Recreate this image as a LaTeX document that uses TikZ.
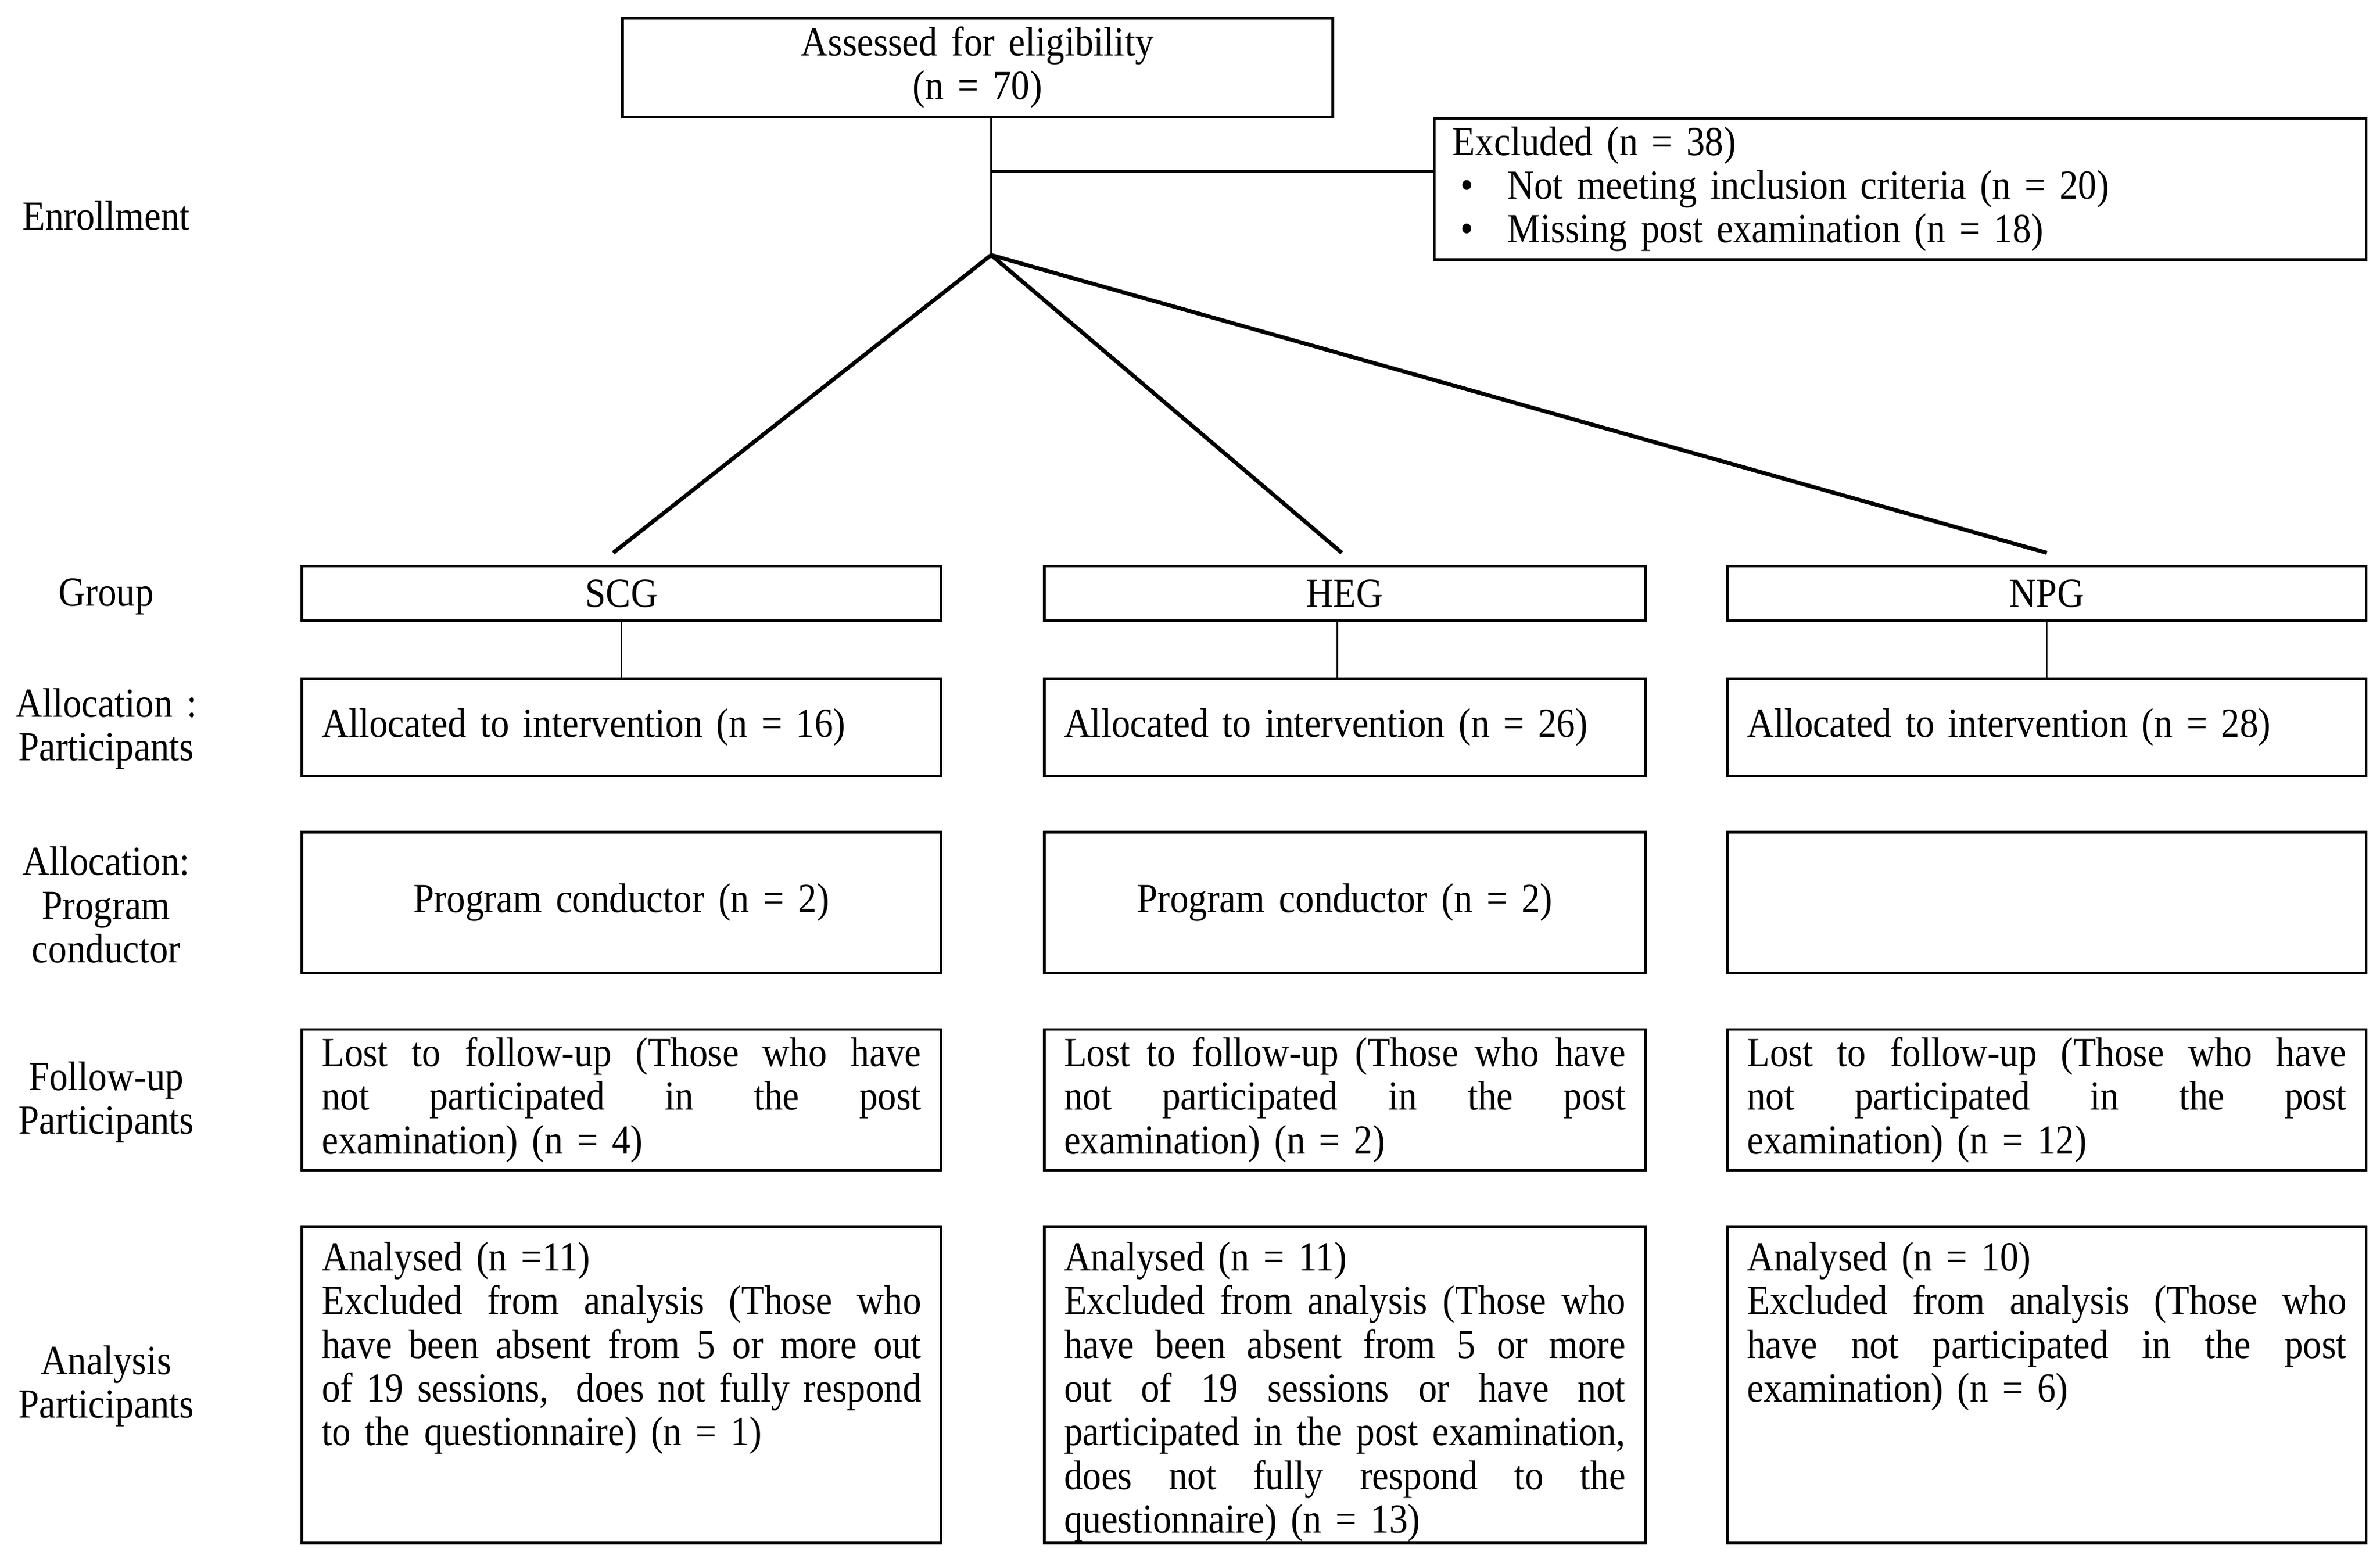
\documentclass[tikz,border=0pt]{standalone}
\usepackage{fontspec}
\setmainfont{Liberation Serif}[FakeStretch=0.9,WordSpace=1.5]
\usepackage{tikz}
\tikzset{
  box/.style={draw,line width=1pt,rectangle,inner xsep=0.26cm,inner ysep=0pt},
  sidelabel/.style={align=center},
  link/.style={line width=0.6pt},
  branch/.style={line width=1.5pt}
}

\begin{document}
\begin{tikzpicture}[x=0.02cm,y=-0.02cm,every node/.style={font=\fontsize{15.5}{16.4}\selectfont}]
\useasboundingbox (0,0) rectangle (1568,1024);

%left labels
\node[sidelabel] (lenrol) at (70,142) {Enrollment};
\node[sidelabel] (lgroup) at (70,393) {Group};
\node[sidelabel] (lalloc) at (70,480) {Allocation :\\Participants};
\node[sidelabel] (lprog) at (70,596) {Allocation:\\Program\\conductor};
\node[sidelabel] (lfollow) at (70,726) {Follow-up\\Participants};
\node[sidelabel] (lanal) at (70,913) {Analysis\\Participants};

%enrollment
\node[box,minimum width=9.36cm,minimum height=1.3cm,align=center] (assess) at (644,44.5) {Assessed for eligibility\\(n = 70)};
\node[box,minimum height=1.86cm,text width=11.8cm,inner xsep=0.24cm,align=left] (excl) at (1252,124.5) {Excluded (n = 38)\\\hspace*{0.1cm}\textbullet\hspace{0.45cm}Not meeting inclusion criteria (n = 20)\\\hspace*{0.1cm}\textbullet\hspace{0.45cm}Missing post examination (n = 18)};

%groups
\node[box,minimum width=8.42cm,minimum height=0.72cm] (scg) at (409.5,391) {SCG};
\node[box,minimum width=7.92cm,minimum height=0.72cm] (heg) at (886,391) {HEG};
\node[box,minimum width=8.42cm,minimum height=0.72cm] (npg) at (1348.5,391) {NPG};

%allocation participants
\node[box,text width=7.9cm,minimum height=1.28cm,align=left] (scgal) at (409.5,479) {Allocated to intervention (n = 16)};
\node[box,text width=7.4cm,minimum height=1.28cm,align=left] (hegal) at (886,479) {Allocated to intervention (n = 26)};
\node[box,text width=7.9cm,minimum height=1.28cm,align=left] (npgal) at (1348.5,479) {Allocated to intervention (n = 28)};

%program conductor
\node[box,minimum width=8.42cm,minimum height=1.86cm] (scgpc) at (409.5,594.5) {Program conductor (n = 2)};
\node[box,minimum width=7.92cm,minimum height=1.86cm] (hegpc) at (886,594.5) {Program conductor (n = 2)};
\node[box,minimum width=8.42cm,minimum height=1.86cm] (npgpc) at (1348.5,594.5) {};

%follow-up
\node[box,text width=7.9cm,minimum height=1.86cm,align=justify] (scgfu) at (409.5,724.5) {Lost to follow-up (Those who have\linebreak not participated in the post\linebreak examination) (n = 4)};
\node[box,text width=7.4cm,minimum height=1.86cm,align=justify] (hegfu) at (886,724.5) {Lost to follow-up (Those who have\linebreak not participated in the post\linebreak examination) (n = 2)};
\node[box,text width=7.9cm,minimum height=1.86cm,align=justify] (npgfu) at (1348.5,724.5) {Lost to follow-up (Those who have\linebreak not participated in the post\linebreak examination) (n = 12)};

%analysis
\node[box,inner ysep=0.2cm] (scgan) at (409.5,912) {\parbox[c][3.76cm][t]{7.9cm}{Analysed (n =11)\\Excluded from analysis (Those who\linebreak have been absent from 5 or more out\linebreak of 19 sessions,\ \ does not fully respond\linebreak to the questionnaire) (n = 1)}};
\node[box,inner ysep=0.2cm] (hegan) at (886,912) {\parbox[c][3.76cm][t]{7.4cm}{Analysed (n = 11)\\Excluded from analysis (Those who\linebreak have been absent from 5 or more\linebreak out of 19 sessions or have not\linebreak participated in the post examination,\linebreak does not fully respond to the\linebreak questionnaire) (n = 13)}};
\node[box,inner ysep=0.2cm] (npgan) at (1348.5,912) {\parbox[c][3.76cm][t]{7.9cm}{Analysed (n = 10)\\Excluded from analysis (Those who\linebreak have not participated in the post\linebreak examination) (n = 6)}};

%connectors
\coordinate (apex) at (653,168);
\coordinate (fork) at (653,113);
\draw[link] (apex |- assess.south) -- (apex); %trunk
\draw[line width=1pt] (fork) -- (fork -| excl.west); %to excluded
\draw[branch] (apex) -- ([xshift=-0.11cm,yshift=0.16cm]scg.north);
\draw[branch] (apex) -- ([xshift=-0.04cm,yshift=0.16cm]heg.north);
\draw[branch] (apex) -- ([yshift=0.16cm]npg.north);
\draw[link] (scg) -- (scgal);
\draw[link] ([xshift=-0.1cm]heg.south) -- ([xshift=-0.1cm]hegal.north);
\draw[link] (npg) -- (npgal);
\end{tikzpicture}
\end{document}
